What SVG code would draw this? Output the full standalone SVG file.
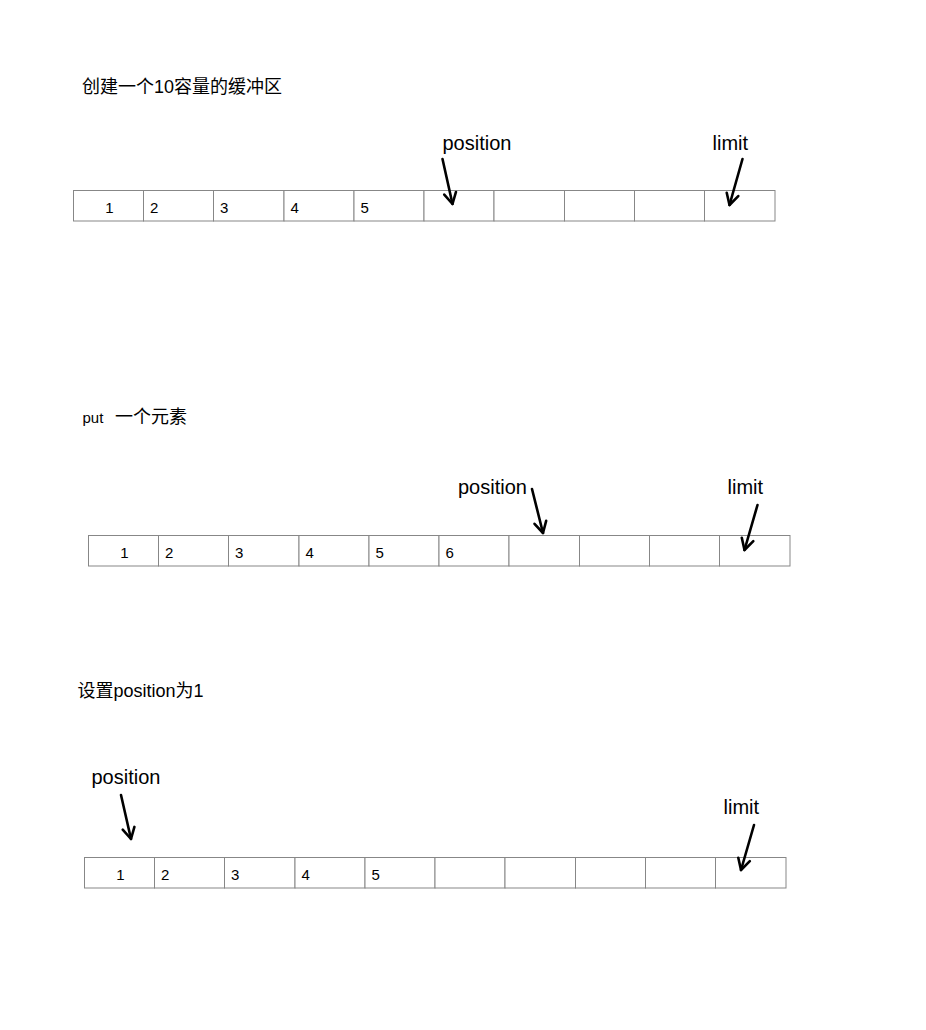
<svg xmlns="http://www.w3.org/2000/svg" width="926" height="1030" viewBox="0 0 926 1030">
<style>
.t{font-family:"Liberation Sans","Noto Sans CJK SC",sans-serif;fill:#000}
.title{font-size:18px}
.lbl{font-size:20px}
.num{font-size:15px}
.cell{fill:#fff;stroke:#878787;stroke-width:1}
.arr{stroke:#000;stroke-width:2.6;fill:none;stroke-linecap:round;marker-end:url(#ah)}
</style>
<defs>
<marker id="ah" markerUnits="userSpaceOnUse" viewBox="-14 -8 16 16" markerWidth="16" markerHeight="16" refX="0" refY="0" orient="auto" overflow="visible">
<path d="M-11,-6 L0,0 L-11,6" fill="none" stroke="#000" stroke-width="2.6" stroke-linecap="round" stroke-linejoin="round"/>
</marker>
<g id="cells10">
<rect class="cell" x="73.5" y="190.5" width="70" height="30.5"/>
<rect class="cell" x="143.5" y="190.5" width="70" height="30.5"/>
<rect class="cell" x="213.5" y="190.5" width="70.5" height="30.5"/>
<rect class="cell" x="284" y="190.5" width="70" height="30.5"/>
<rect class="cell" x="354" y="190.5" width="70" height="30.5"/>
<rect class="cell" x="424" y="190.5" width="70" height="30.5"/>
<rect class="cell" x="494" y="190.5" width="70.5" height="30.5"/>
<rect class="cell" x="564.5" y="190.5" width="70" height="30.5"/>
<rect class="cell" x="634.5" y="190.5" width="70" height="30.5"/>
<rect class="cell" x="704.5" y="190.5" width="70.5" height="30.5"/>
</g>
</defs>

<text id="title1" class="t title" x="82" y="93">创建一个10容量的缓冲区</text>
<g id="buffer1">
<use href="#cells10"/>
<g class="t num">
<text x="109.5" y="212.5" text-anchor="middle">1</text>
<text x="150" y="212.5">2</text>
<text x="220" y="212.5">3</text>
<text x="290.5" y="212.5">4</text>
<text x="360.5" y="212.5">5</text>
</g>
</g>
<g id="position1"><text class="t lbl" x="442.5" y="150">position</text></g>
<g id="limit1"><text class="t lbl" x="712.5" y="150">limit</text></g>

<text id="title2" x="82.5" y="423" class="t"><tspan font-size="15">put</tspan><tspan font-size="18" x="115">一个元素</tspan></text>
<g id="buffer2">
<use href="#cells10" transform="translate(15,345)"/>
<g class="t num">
<text x="124.5" y="557.5" text-anchor="middle">1</text>
<text x="165" y="557.5">2</text>
<text x="235" y="557.5">3</text>
<text x="305.5" y="557.5">4</text>
<text x="375.5" y="557.5">5</text>
<text x="445.5" y="557.5">6</text>
</g>
</g>
<g id="position2"><text class="t lbl" x="458" y="494">position</text></g>
<g id="limit2"><text class="t lbl" x="727.5" y="494">limit</text></g>

<text id="title3" class="t title" x="77.5" y="697">设置position为1</text>
<g id="buffer3">
<use href="#cells10" transform="translate(11,667)"/>
<g class="t num">
<text x="120.5" y="879.5" text-anchor="middle">1</text>
<text x="161" y="879.5">2</text>
<text x="231" y="879.5">3</text>
<text x="301.5" y="879.5">4</text>
<text x="371.5" y="879.5">5</text>
</g>
</g>
<g id="position3"><text class="t lbl" x="91.5" y="784">position</text></g>
<g id="limit3"><text class="t lbl" x="723.5" y="814">limit</text></g>

<g id="connectors">
<line class="arr" x1="442.5" y1="159" x2="452.5" y2="204"/>
<line class="arr" x1="742.5" y1="159" x2="729.5" y2="205"/>
<line class="arr" x1="532" y1="489" x2="543" y2="533"/>
<line class="arr" x1="757.5" y1="505" x2="744.5" y2="550"/>
<line class="arr" x1="121" y1="795" x2="131" y2="839"/>
<line class="arr" x1="754" y1="825" x2="741" y2="870"/>
</g>
</svg>
